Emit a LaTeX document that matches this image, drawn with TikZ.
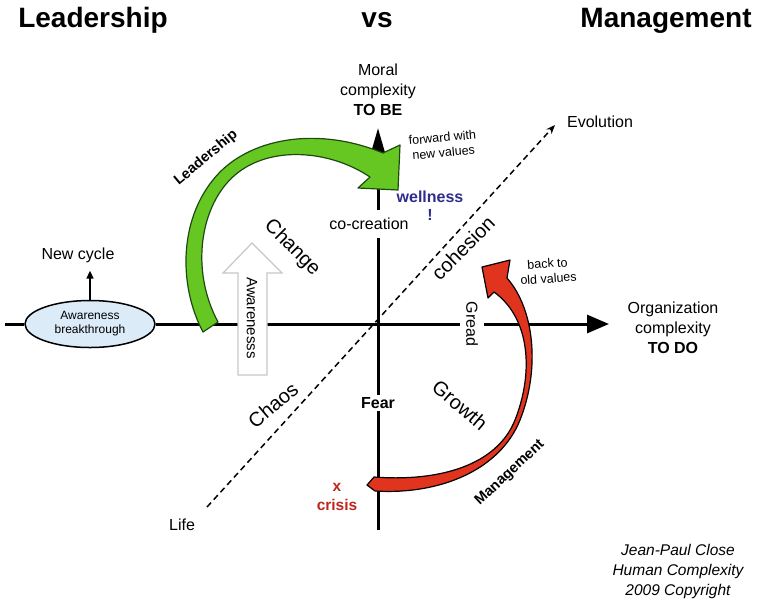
\documentclass[tikz,border=0pt]{standalone}
\usepackage{fontspec}
\setmainfont{Liberation Sans}
\usetikzlibrary{arrows.meta,shapes.geometric}

\definecolor{ellblue}{HTML}{DCEBF8}
\definecolor{leafgreen}{HTML}{66C722}
\definecolor{darkleaf}{HTML}{1E4A12}
\definecolor{firered}{HTML}{E0341F}
\definecolor{crisisred}{HTML}{BE261C}
\definecolor{wellblue}{HTML}{2E2C8C}

\begin{document}
\begin{tikzpicture}[x=1pt, y=-1pt,
	axis line/.style={line width=3pt},
	dash line/.style={line width=1.5pt, dash pattern=on 6pt off 4pt},
	plain node/.style={font=\fontsize{16}{20}\selectfont, align=center, inner sep=2pt},
	small node/.style={font=\fontsize{12.5}{15}\selectfont, align=center, inner sep=1pt},
	big node/.style={font=\fontsize{20}{24}\selectfont, inner sep=1pt},
	arc node/.style={font=\bfseries\fontsize{14.5}{17}\selectfont, inner sep=1pt},
	title node/.style={font=\bfseries\fontsize{28}{32}\selectfont, anchor=base},
	ribbon/.style={line width=1.2pt, line join=round}]

	\useasboundingbox (0,0) rectangle (759,603);

	% titles
	\node[title node] (t1) at (93,27) {Leadership};
	\node[title node] (t2) at (377,27) {vs};
	\node[title node] (t3) at (666,27) {Management};

	% nodes on the axes
	\node[ellipse, draw, line width=1.5pt, fill=ellblue, minimum width=130pt, minimum height=47pt,
		inner sep=0pt, align=center, font=\fontsize{12}{14}\selectfont] (ell) at (90,324) {Awareness\\breakthrough};
	\node[plain node, rotate=-90, inner sep=6pt] (gread) at (472,324) {Gread};
	\node[plain node, font=\bfseries\fontsize{16}{20}\selectfont] (fear) at (378,403) {Fear};
	\node[plain node, inner ysep=7.5pt] (cocr) at (369,224) {co-creation};

	\coordinate (xl) at (5,324);
	\coordinate (xr) at (609,324);
	\coordinate (yb) at (378,530);
	\coordinate (yt) at (378,128);
	\coordinate (dl) at (207,507);
	\coordinate (dr) at (555,125);

	% axes
	\path[axis line]
	(xl) edge (ell)
	(ell) edge (gread)
	(yb) edge (fear)
	(fear) edge (fear |- cocr.south);
	\draw[axis line, -{Triangle[length=22pt,width=18pt]}] (gread) -- (xr);
	\draw[axis line, -{Triangle[length=26pt,width=14pt]}] (fear |- cocr.north) -- (yt);
	\draw[dash line, -{Stealth[length=9pt,width=7pt]}] (dl) -- (dr);

	% new cycle
	\node[plain node] (newcyc) at (78,255) {New cycle};
	\draw[line width=1.5pt, -{Triangle[length=8pt,width=7pt]}, shorten >=6pt] (ell.north) -- (ell.north |- newcyc.south);

	% awareness arrow
	\draw[draw=black!22, fill=white, line width=1.2pt] (238,375) -- (238,273) -- (223,273) -- (252,243)
		-- (282,273) -- (267,273) -- (267,375) -- cycle;
	\node[plain node, rotate=-90, font=\fontsize{15}{18}\selectfont] (aware) at (252,318) {Awarenesss};

	% leadership arrow
	\draw[ribbon, draw=darkleaf, fill=leafgreen] (203,332) .. controls (178,285) and (178,215) .. (220,172)
		.. controls (255,137) and (320,127) .. (383,153)
		-- (400,145) -- (398,190) -- (358,188) -- (370,177)
		.. controls (330,150) and (270,145) .. (235,175)
		.. controls (200,205) and (190,270) .. (218,322) -- cycle;

	% management arrow
	\draw[ribbon, draw=black, fill=firered] (375,491) .. controls (440,495) and (500,470) .. (520,420)
		.. controls (540,370) and (535,310) .. (507,278)
		-- (510,260) -- (482,267) -- (488,298) -- (494,292)
		.. controls (530,318) and (534,372) .. (515,420)
		.. controls (497,465) and (440,482) .. (374,477) -- (367,485) -- cycle;

	% labels
	\node[plain node] (moral) at (378,90) {Moral\\complexity\\\textbf{TO BE}};
	\node[plain node] (org) at (673,328) {Organization\\complexity\\\textbf{TO DO}};
	\node[plain node] (evo) at (600,122) {Evolution};
	\node[plain node] (life) at (182,525) {Life};
	\node[small node, rotate=5] (fwd) at (443,145) {forward with\\new values};
	\node[small node, rotate=4] (back) at (548,271) {back to\\old values};
	\node[plain node, text=wellblue, font=\bfseries\fontsize{16}{18}\selectfont] (well) at (430,206) {wellness\\!};
	\node[plain node, text=crisisred, font=\bfseries\fontsize{15.5}{19}\selectfont] (crisis) at (337,497) {x\\crisis};
	\node[big node, rotate=-45] (change) at (292,248) {Change};
	\node[big node, rotate=45] (coh) at (463,248) {cohesion};
	\node[big node, rotate=40] (chaos) at (273,405) {Chaos};
	\node[big node, rotate=-40] (growth) at (460,405) {Growth};
	\node[arc node, rotate=40] (lead) at (206,158) {Leadership};
	\node[arc node, rotate=43] (mgmt) at (510,473) {Management};
	\node[plain node, font=\itshape\fontsize{15.5}{20}\selectfont] (copy) at (678,571) {Jean-Paul Close\\Human Complexity\\2009 Copyright};

\end{tikzpicture}
\end{document}
